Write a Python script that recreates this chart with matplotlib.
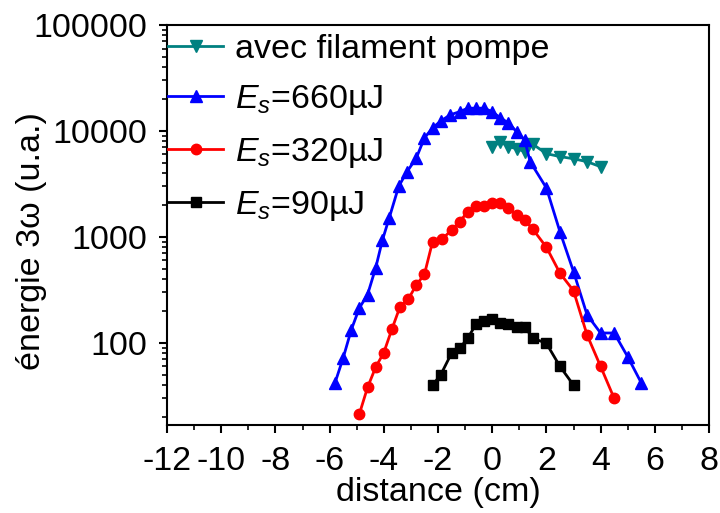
import numpy as np
import matplotlib
matplotlib.use("Agg")
import matplotlib.pyplot as plt
from matplotlib.ticker import FixedLocator, FixedFormatter, LogLocator, MultipleLocator

plt.rcParams['font.family'] = ['Liberation Sans', 'DejaVu Sans']
plt.rcParams['mathtext.fontset'] = 'custom'
plt.rcParams['mathtext.rm'] = 'Liberation Sans'
plt.rcParams['mathtext.it'] = 'Liberation Sans:italic'

# avec filament pompe
x_pompe = [0.0, 0.3, 0.6, 0.9, 1.2, 1.5, 2.0, 2.5, 3.0, 3.5, 4.0]
y_pompe = [6990, 7930, 7110, 6810, 6380, 7500, 6110, 5730, 5470, 5130, 4600]

# Es = 660 uJ
x_660 = [-5.8, -5.5, -5.2, -4.9, -4.6, -4.3, -4.05, -3.8, -3.45, -3.15, -2.8, -2.5, -2.2,
         -1.9, -1.55, -1.2, -0.9, -0.6, -0.3, 0.0, 0.3, 0.6, 0.9, 1.2, 1.4, 2.0, 2.5,
         3.0, 3.5, 4.0, 4.5, 5.0, 5.5]
y_660 = [42, 72, 133, 214, 285, 510, 935, 1510, 3000, 4100, 5560, 8600, 10700,
         12400, 14200, 15200, 16400, 16400, 16400, 15200, 13300, 11900, 9850, 8200, 5130, 2900, 1120,
         471, 184, 124, 124, 74, 42]

# Es = 320 uJ
x_320 = [-4.9, -4.6, -4.3, -4.0, -3.7, -3.4, -3.1, -2.8, -2.5, -2.2, -1.85, -1.5, -1.2,
         -0.9, -0.6, -0.3, 0.0, 0.3, 0.6, 0.9, 1.2, 1.5, 2.0, 2.5, 3.0, 3.5, 4.0, 4.5]
y_320 = [21.4, 38, 59, 81, 135, 220, 258, 352, 445, 903, 951, 1164, 1393,
         1733, 1960, 1960, 2108, 2080, 1866, 1614, 1446, 1182, 800, 455, 311, 119, 60, 30]

# Es = 90 uJ
x_90 = [-2.2, -1.9, -1.5, -1.2, -0.9, -0.6, -0.3, 0.0, 0.3, 0.6, 0.9, 1.2, 1.5, 2.0, 2.5, 3.0]
y_90 = [40, 50, 80, 89, 111, 150, 162, 167, 153, 150, 141, 141, 111, 99, 60, 40]

fig = plt.figure(figsize=(7.2, 5.13), dpi=100)
ax = fig.add_axes([167/720, 88/513, 542/720, 400/513])

ax.plot(x_pompe, y_pompe, color='#008080', marker='v', ms=8, lw=2, label='avec filament pompe')
ax.plot(x_660, y_660, color='#0000ff', marker='^', ms=8, lw=2, label='$E_s$=660µJ')
ax.plot(x_320, y_320, color='#ff0000', marker='o', ms=7.5, lw=2, label='$E_s$=320µJ')
ax.plot(x_90, y_90, color='black', marker='s', ms=6.5, lw=2, label='$E_s$=90µJ')

ax.set_yscale('log')
ax.set_xlim(-12, 8)
ax.set_ylim(16.8, 1e5)

ax.set_xticks(np.arange(-12, 9, 2))
ax.set_xticklabels([str(v) for v in range(-12, 9, 2)])
ax.xaxis.set_minor_locator(MultipleLocator(1))

ax.yaxis.set_major_locator(FixedLocator([100, 1000, 10000, 100000]))
ax.yaxis.set_major_formatter(FixedFormatter(['100', '1000', '10000', '100000']))
ax.yaxis.set_minor_locator(LogLocator(base=10, subs=np.arange(2, 10)))
ax.yaxis.set_minor_formatter(FixedFormatter([]))

ax.tick_params(which='major', direction='out', length=6, width=1.5, labelsize=24.5)
ax.tick_params(axis='y', which='major', pad=8)
ax.tick_params(axis='x', which='major', pad=9)
ax.tick_params(which='minor', direction='out', length=3.5, width=1.2)
for s in ax.spines.values():
    s.set_linewidth(1.5)

ax.set_xlabel('distance (cm)', fontsize=24.5)
ax.xaxis.set_label_coords(0.5, -0.13)
ax.set_ylabel('énergie 3ω (u.a.)', fontsize=24.5)
ax.yaxis.set_label_coords(-0.222, 0.46)

ax.legend(loc='upper left', frameon=False, fontsize=24.5, handlelength=1.6,
          handletextpad=0.35, labelspacing=0.55, borderaxespad=0.0,
          borderpad=0.25, bbox_to_anchor=(-0.013, 1.0))

fig.savefig('out.png', dpi=100)
